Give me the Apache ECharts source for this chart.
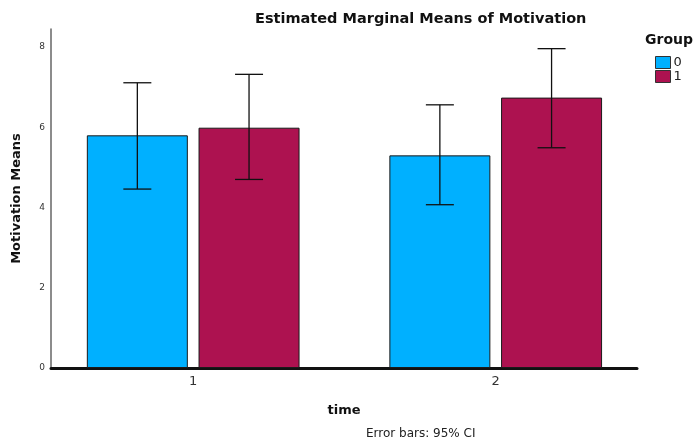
<!DOCTYPE html>
<html><head><meta charset="utf-8">
<script src="https://cdn.jsdelivr.net/npm/echarts@6/dist/echarts.min.js"></script>
<style>html,body{margin:0;padding:0;background:#fff}#c{width:696px;height:442px}</style>
</head><body><div id="c"></div>
<script>
const timeCategories = [1, 2];
const groupNames = ['0', '1'];
const meansGroup0 = [5.80, 5.30];
const meansGroup1 = [5.99, 6.74];
const ciLowGroup0 = [4.46, 4.07];
const ciHighGroup0 = [7.11, 6.56];
const ciLowGroup1 = [4.70, 5.49];
const ciHighGroup1 = [7.32, 7.96];
const yTicks = [0, 2, 4, 6, 8];

const colors = ['#00B0FF', '#AD1250'];
const BAR_W = 101, BAR_GAP_PX = 10.7;
const offset = (BAR_W + BAR_GAP_PX) / 2;

function errSeries(lows, highs, dir) {
  return {
    type: 'custom', z: 10, silent: true,
    data: timeCategories.map((t, i) => [t, lows[i], highs[i]]),
    renderItem: function (params, api) {
      const x = api.value(0);
      const lo = api.coord([x, api.value(1)]);
      const hi = api.coord([x, api.value(2)]);
      const cx = lo[0] + dir * offset;
      const cap = 14;
      const st = { stroke: '#111', lineWidth: 1.3 };
      return { type: 'group', children: [
        { type: 'line', shape: { x1: cx, y1: lo[1], x2: cx, y2: hi[1] }, style: st },
        { type: 'line', shape: { x1: cx - cap, y1: lo[1], x2: cx + cap, y2: lo[1] }, style: st },
        { type: 'line', shape: { x1: cx - cap, y1: hi[1], x2: cx + cap, y2: hi[1] }, style: st }
      ]};
    }
  };
}

const chart = echarts.init(document.getElementById('c'), null, { renderer: 'canvas' });
chart.setOption({
  animation: false,
  textStyle: { fontFamily: 'DejaVu Sans' },
  title: [
    { text: 'Estimated Marginal Means of Motivation', left: 255, top: 12, padding: 0,
      textStyle: { fontSize: 14.5, fontWeight: 'bold', color: '#111', fontFamily: 'DejaVu Sans' } },
    { text: 'Group', left: 645, top: 33, padding: 0,
      textStyle: { fontSize: 14, fontWeight: 'bold', color: '#111', fontFamily: 'DejaVu Sans' } },
    { text: 'Error bars: 95% CI', left: 366, top: 428, padding: 0,
      textStyle: { fontSize: 12, fontWeight: 'normal', color: '#222', fontFamily: 'DejaVu Sans' } }
  ],
  legend: {
    data: groupNames, orient: 'vertical', left: 655, top: 56, itemGap: 1, padding: 0,
    itemWidth: 15, itemHeight: 12, icon: 'rect',
    itemStyle: { borderColor: '#333', borderWidth: 1 },
    textStyle: { fontSize: 13, color: '#222', padding: [0, 0, 0, -2] }
  },
  grid: { left: 51, right: 59, top: 29, bottom: 74, containLabel: false, outerBoundsMode: 'none' },
  xAxis: {
    type: 'value', min: 0.530, max: 2.467,
    name: 'time', nameLocation: 'middle', nameGap: 36,
    nameTextStyle: { fontSize: 13, fontWeight: 'bold', color: '#111' },
    axisLine: { show: true, lineStyle: { color: '#111', width: 3 } },
    axisTick: { show: false },
    splitLine: { show: false },
    axisLabel: { customValues: timeCategories, fontSize: 13, color: '#333', margin: 7 }
  },
  yAxis: {
    type: 'value', min: 0, max: 8.45, interval: 2,
    name: 'Motivation Means', nameLocation: 'middle', nameGap: 28, nameRotate: 90,
    nameTextStyle: { fontSize: 13, fontWeight: 'bold', color: '#111' },
    axisLine: { show: true, lineStyle: { color: '#666', width: 1.5 } },
    axisTick: { show: false },
    splitLine: { show: false },
    axisLabel: { customValues: yTicks, fontSize: 9, color: '#333', margin: 6 }
  },
  series: [
    { name: groupNames[0], type: 'bar', barWidth: BAR_W, barGap: (BAR_GAP_PX / BAR_W * 100) + '%',
      itemStyle: { color: colors[0], borderColor: '#1a1a1a', borderWidth: 1 },
      data: timeCategories.map((t, i) => [t, meansGroup0[i]]) },
    { name: groupNames[1], type: 'bar', barWidth: BAR_W,
      itemStyle: { color: colors[1], borderColor: '#1a1a1a', borderWidth: 1 },
      data: timeCategories.map((t, i) => [t, meansGroup1[i]]) },
    errSeries(ciLowGroup0, ciHighGroup0, -1),
    errSeries(ciLowGroup1, ciHighGroup1, 1)
  ]
});
</script></body></html>
